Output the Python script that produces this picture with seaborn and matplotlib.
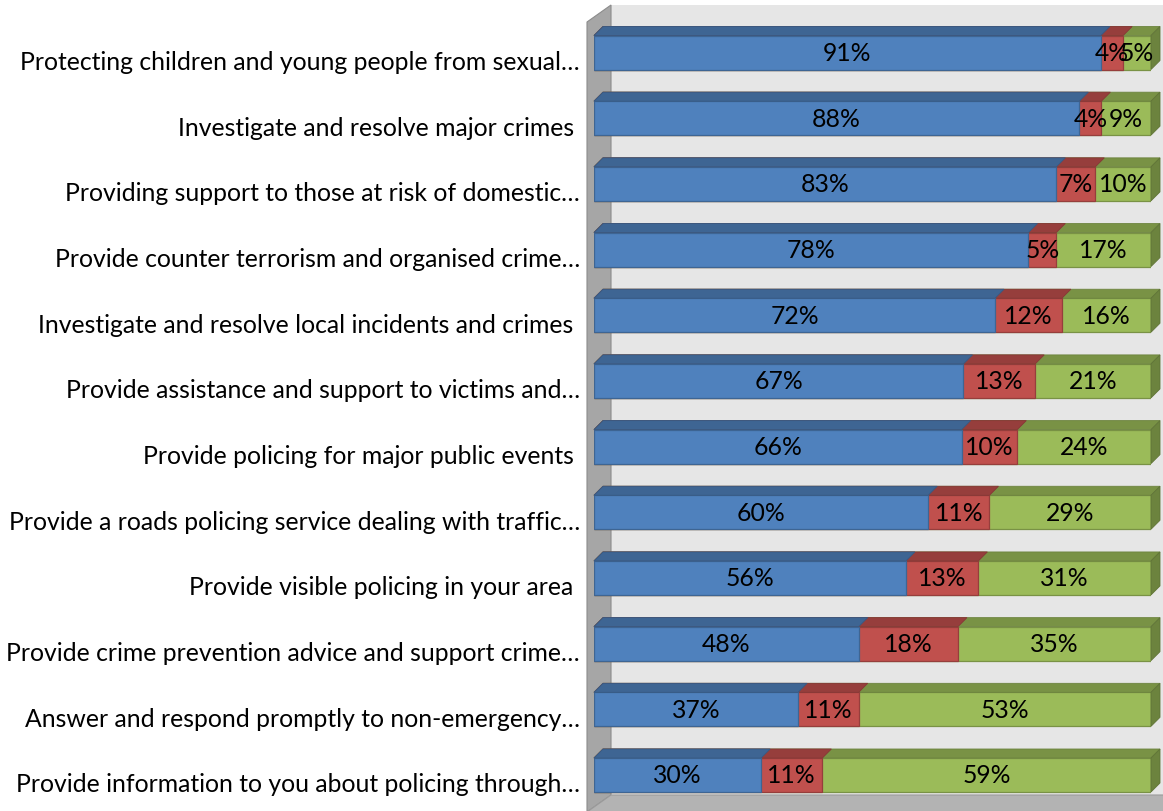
import numpy as np
import pandas as pd
import matplotlib
matplotlib.use("Agg")
import matplotlib.pyplot as plt
import matplotlib.transforms as mtransforms
import seaborn as sns
from matplotlib.patches import Polygon

categories = [
    "Protecting children and young people from sexual\u2026",
    "Investigate and resolve major crimes ",
    "Providing support to those at risk of domestic\u2026",
    "Provide counter terrorism and organised crime\u2026",
    "Investigate and resolve local incidents and crimes ",
    "Provide assistance and support to victims and\u2026",
    "Provide policing for major public events ",
    "Provide a roads policing service dealing with traffic\u2026",
    "Provide visible policing in your area ",
    "Provide crime prevention advice and support crime\u2026",
    "Answer and respond promptly to non-emergency\u2026",
    "Provide information to you about policing through\u2026",
]
series1 = [91, 88, 83, 78, 72, 67, 66, 60, 56, 48, 37, 30]
series2 = [4, 4, 7, 5, 12, 13, 10, 11, 13, 18, 11, 11]
series3 = [5, 9, 10, 17, 16, 21, 24, 29, 31, 35, 53, 59]

BLUE, RED, GREEN = "#4F81BD", "#C0504D", "#9BBB59"
FONT = "Lato"

sns.set_theme(style="white")
plt.rcParams["font.family"] = [FONT, "DejaVu Sans"]

W, H = 1163, 812
fig = plt.figure(figsize=(W / 100, H / 100), dpi=100)

# geometry in pixels
face_left, face_right = 594, 1151
c_first, c_last = 53.5, 776
n = len(categories)
step = (c_last - c_first) / (n - 1)
ax_top = c_first - step / 2
ax_bot = c_last + step / 2
ax = fig.add_axes([face_left / W, 1 - ax_bot / H, (face_right - face_left) / W, (ax_bot - ax_top) / H])
pxx = face_right - face_left  # pixels per x-unit
pxy = step                    # pixels per category unit

s1 = np.array(series1, float)
s2 = np.array(series2, float)
s3 = np.array(series3, float)
tot = s1 + s2 + s3
df = pd.DataFrame({
    "category": categories,
    "cum1": s1 / tot,
    "cum2": (s1 + s2) / tot,
    "cum3": tot / tot,
})

def shade(c, f):
    r, g, b = matplotlib.colors.to_rgb(c)
    return (r * f, g * f, b * f)

bar_w = 34 / step
ddx, ddy = 9 / pxx, 9 / pxy

layers = [("cum3", GREEN, 3), ("cum2", RED, 4), ("cum1", BLUE, 5)]
containers = {}
for col, color, z in layers:
    sns.barplot(data=df, y="category", x=col, color=color, saturation=1,
                orient="h", width=bar_w, ax=ax, zorder=z,
                edgecolor=shade(color, 0.78), linewidth=0.9)
    cont = ax.containers[-1]
    containers[col] = cont
    for p in cont.patches:
        x0, y0 = p.get_x(), p.get_y()
        w, h = p.get_width(), p.get_height()
        top = Polygon([(x0, y0), (x0 + w, y0), (x0 + w + ddx, y0 - ddy), (x0 + ddx, y0 - ddy)],
                      closed=True, facecolor=shade(color, 0.78), edgecolor=shade(color, 0.7),
                      linewidth=0.6, zorder=z, clip_on=False)
        ax.add_patch(top)
        if col == "cum3":
            side = Polygon([(x0 + w, y0), (x0 + w + ddx, y0 - ddy), (x0 + w + ddx, y0 + h - ddy), (x0 + w, y0 + h)],
                           closed=True, facecolor=shade(color, 0.7), edgecolor=shade(color, 0.62),
                           linewidth=0.6, zorder=z, clip_on=False)
            ax.add_patch(side)

ax.set_xlim(0, 1)
ax.set_ylim(n - 0.5, -0.5)

# walls (decor) -- depth offsets in pixels
wx0 = (587 - face_left) / pxx
wdx = 24 / pxx
y_top_front = (23 - c_first) / pxy
y_floor_front = (813 - c_first) / pxy
wdy = 17 / pxy
back = Polygon([(wx0 + wdx, y_top_front - wdy), (1 + wdx + 0.05, y_top_front - wdy),
                (1 + wdx + 0.05, y_floor_front - wdy), (wx0 + wdx, y_floor_front - wdy)],
               closed=True, facecolor="#E6E6E6", edgecolor="none", zorder=0.5, clip_on=False)
left = Polygon([(wx0, y_top_front), (wx0 + wdx, y_top_front - wdy),
                (wx0 + wdx, y_floor_front - wdy), (wx0, y_floor_front)],
               closed=True, facecolor="#A6A6A6", edgecolor="#8C8C8C", linewidth=0.8, zorder=0.6, clip_on=False)
floor = Polygon([(wx0, y_floor_front), (wx0 + wdx, y_floor_front - wdy),
                 (1 + wdx + 0.05, y_floor_front - wdy), (1 + 0.05, y_floor_front)],
                closed=True, facecolor="#B3B3B3", edgecolor="#9A9A9A", linewidth=0.8, zorder=0.6, clip_on=False)
for pol in (back, left, floor):
    ax.add_patch(pol)

for sp in ax.spines.values():
    sp.set_visible(False)
ax.set_facecolor("none")
ax.set_xlabel("")
ax.set_ylabel("")
ax.set_xticks([])

# fit label font size so the widest label spans ~572 px
fig.canvas.draw()
r = fig.canvas.get_renderer()
base = 12
widths = []
for c in categories:
    t = fig.text(0, 0, c.rstrip(), fontsize=base, family=[FONT, "DejaVu Sans"])
    widths.append(t.get_window_extent(r).width)
    t.remove()
fs = base * 572 / max(widths)

ax.tick_params(axis="y", length=0, pad=(face_left - 580) * 0.72, labelsize=fs)
shift = mtransforms.ScaledTranslation(0, -7 / 100, fig.dpi_scale_trans)
for lab in ax.get_yticklabels():
    lab.set_color("black")
    lab.set_family([FONT, "DejaVu Sans"])
    lab.set_transform(lab.get_transform() + shift)

# data labels
p1 = containers["cum1"].patches
p2 = containers["cum2"].patches
p3 = containers["cum3"].patches
for i in range(n):
    b = p1[i].get_width()
    rr = p2[i].get_width()
    g = p3[i].get_width()
    yc = p1[i].get_y() + p1[i].get_height() / 2
    for xc, v in ((b / 2, series1[i]), ((b + rr) / 2, series2[i]), ((rr + g) / 2, series3[i])):
        ax.text(xc, yc, f"{v}%", ha="center", va="center", fontsize=fs, color="black",
                zorder=10, family=[FONT, "DejaVu Sans"])

fig.savefig("out.png", dpi=100)
